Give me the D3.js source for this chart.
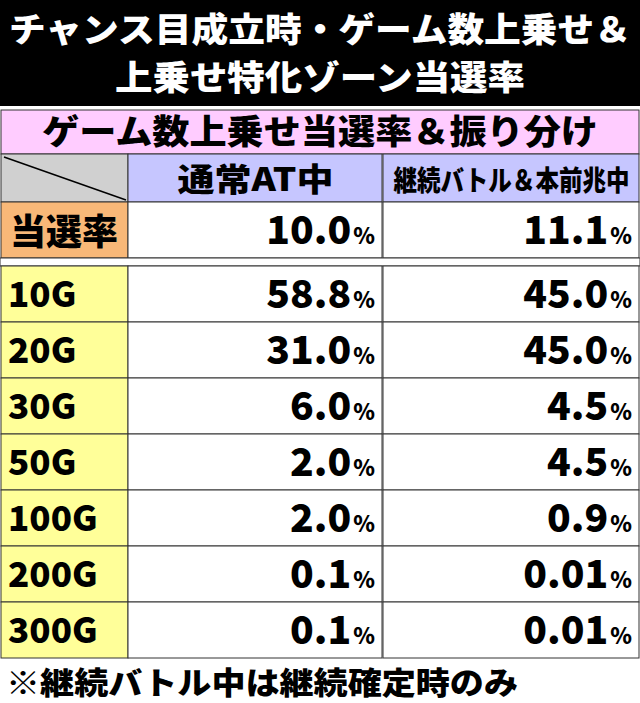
<!DOCTYPE html>
<html><head><meta charset="utf-8">
<script src="https://cdn.jsdelivr.net/npm/d3@7"></script>
<style>body{margin:0;background:#fff}text{font-family:"Noto Sans CJK JP",sans-serif;font-weight:900}</style>
</head><body>
<script>
var titleLines = ["チャンス目成立時・ゲーム数上乗せ＆", "上乗せ特化ゾーン当選率"];
var tableTitle = "ゲーム数上乗せ当選率＆振り分け";
var columns = ["通常AT中", "継続バトル＆本前兆中"];
var rateLabel = "当選率";
var rateValues = ["10.0", "11.1"];
var games = ["10G", "20G", "30G", "50G", "100G", "200G", "300G"];
var normalAT = ["58.8", "31.0", "6.0", "2.0", "2.0", "0.1", "0.1"];
var battle = ["45.0", "45.0", "4.5", "4.5", "0.9", "0.01", "0.01"];
var footnote = "※継続バトル中は継続確定時のみ";

var W = 640, H = 703;
var svg = d3.select("body").append("svg").attr("width", W).attr("height", H);

svg.append("rect").attr("width", W).attr("height", 106).attr("fill", "#000");
svg.selectAll(".tt").data(titleLines).enter().append("text")
    .attr("x", W / 2).attr("y", function (d, i) { return 42 + i * 48; })
    .attr("text-anchor", "middle").attr("font-size", 34).attr("fill", "#fff")
    .attr("textLength", function (d, i) { return i == 0 ? 622 : 410; })
    .attr("lengthAdjust", "spacingAndGlyphs")
    .text(function (d) { return d; });

var x = d3.scaleOrdinal().domain([0, 1, 2]).range([0, 128, 383]);
var xw = [128, 255, 257];

// pink header
svg.append("rect").attr("x", 1).attr("y", 110).attr("width", W - 2).attr("height", 44)
    .attr("fill", "#ffccff").attr("stroke", "#333");
svg.append("text").attr("x", W / 2).attr("y", 144).attr("text-anchor", "middle")
    .attr("font-size", 34).attr("textLength", 556).attr("lengthAdjust", "spacingAndGlyphs").text(tableTitle);

// column header
svg.append("rect").attr("x", 1).attr("y", 154).attr("width", 127).attr("height", 48)
    .attr("fill", "#d0d0d0").attr("stroke", "#333");
svg.append("line").attr("x1", 4).attr("y1", 157).attr("x2", 126).attr("y2", 200)
    .attr("stroke", "#000").attr("stroke-width", 1.5);
columns.forEach(function (c, i) {
    svg.append("rect").attr("x", x(i + 1)).attr("y", 154).attr("width", xw[i + 1] - 1).attr("height", 48)
        .attr("fill", "#c6c6ff").attr("stroke", "#333");
    svg.append("text").attr("x", x(i + 1) + xw[i + 1] / 2).attr("y", 191).attr("text-anchor", "middle")
        .attr("font-size", i == 0 ? 32 : 28)
        .attr("textLength", i == 0 ? 156 : 236).attr("lengthAdjust", "spacingAndGlyphs")
        .text(c);
});

function valueCell(g, i, v, y0, h) {
    g.append("rect").attr("x", x(i + 1)).attr("y", y0).attr("width", xw[i + 1] - 1).attr("height", h)
        .attr("fill", "#fff").attr("stroke", "#333");
    var t = g.append("text").attr("x", x(i + 1) + xw[i + 1] - 8).attr("y", y0 + h / 2 + 14)
        .attr("text-anchor", "end").attr("font-size", 39);
    t.append("tspan").text(v);
    t.append("tspan").attr("font-size", 22).attr("dx", 2).text("%");
}

// rate row
svg.append("rect").attr("x", 1).attr("y", 202).attr("width", 127).attr("height", 56)
    .attr("fill", "#f8b878").attr("stroke", "#333");
svg.append("text").attr("x", 64).attr("y", 245).attr("text-anchor", "middle")
    .attr("font-size", 36).text(rateLabel);
rateValues.forEach(function (v, i) { valueCell(svg, i, v, 202, 56); });

svg.append("rect").attr("x", 0).attr("y", 258).attr("width", W).attr("height", 8).attr("fill", "#fff")
    .attr("stroke", "#333");

var y = d3.scaleBand().domain(games).range([266, 658]);
var rows = svg.selectAll(".row").data(games).enter().append("g");
rows.each(function (gname, r) {
    var g = d3.select(this), y0 = y(gname), h = y.bandwidth();
    g.append("rect").attr("x", 1).attr("y", y0).attr("width", 127).attr("height", h)
        .attr("fill", "#ffff99").attr("stroke", "#333");
    g.append("text").attr("x", 8).attr("y", y0 + h / 2 + 13).attr("font-size", 35).text(gname);
    valueCell(g, 0, normalAT[r], y0, h);
    valueCell(g, 1, battle[r], y0, h);
});

svg.append("text").attr("x", 6).attr("y", 694).attr("font-size", 31)
    .attr("textLength", 512).attr("lengthAdjust", "spacingAndGlyphs").text(footnote);
</script>
</body></html>
